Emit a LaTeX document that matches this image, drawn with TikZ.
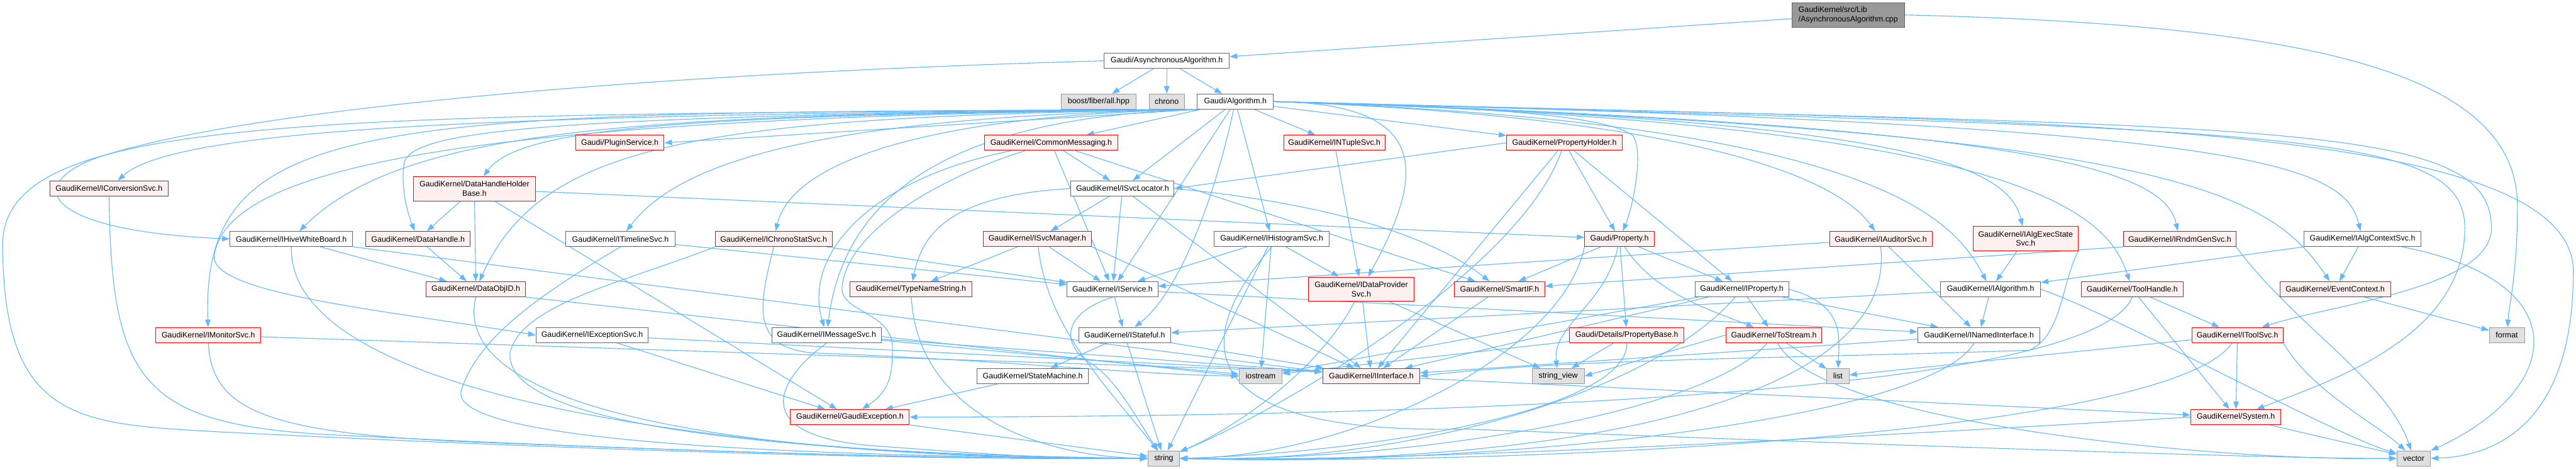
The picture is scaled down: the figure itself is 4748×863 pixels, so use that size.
\documentclass[tikz,border=0pt]{standalone}
\usepackage{fontspec}
\setmainfont{Liberation Sans}
\usetikzlibrary{arrows.meta,calc}
\pgfdeclarelayer{bg}
\pgfsetlayers{bg,main}
\definecolor{ecol}{HTML}{63B8FF}
\definecolor{dred}{HTML}{FF0000}
\definecolor{redfill}{HTML}{FFF0F0}
\definecolor{bgray}{HTML}{666666}
\definecolor{lgray}{HTML}{999999}
\definecolor{gfill}{HTML}{E0E0E0}
\definecolor{rootfill}{HTML}{999999}
\tikzset{
 nb/.style={draw, line width=1.1pt, minimum height=28pt, inner sep=0pt, font=\fontsize{14.4}{17}\selectfont},
 rb/.style={nb, draw=dred, fill=redfill},
 wb/.style={nb, draw=bgray, fill=white},
 gb/.style={nb, draw=lgray, fill=gfill},
 edg/.style={draw=ecol, line width=1.3pt, -{Triangle[length=14pt,width=10pt]}}
}
\begin{document}
\begin{tikzpicture}[x=1pt,y=-1pt]
\useasboundingbox (0,0) rectangle (4748,863);
% nodes
\node[nb, draw=bgray, fill=rootfill, minimum width=207pt, minimum height=45pt, align=left] (root) at (3406.5,27.5) {GaudiKernel/src/Lib\\/AsynchronousAlgorithm.cpp};
\node[wb, minimum width=231pt] (async) at (2150.5,112) {Gaudi/AsynchronousAlgorithm.h};
\node[gb, minimum width=138pt] (boost) at (2025,187) {boost/fiber/all.hpp};
\node[gb, minimum width=65pt] (chrono) at (2150.5,187) {chrono};
\node[wb, minimum width=140pt] (algo) at (2277,187) {Gaudi/Algorithm.h};
\node[rb, minimum width=245pt] (commsg) at (1937.5,263) {GaudiKernel/CommonMessaging.h};
\node[rb, minimum width=163pt] (plugin) at (1142.5,263) {Gaudi/PluginService.h};
\node[rb, minimum width=187pt] (ntuple) at (2459.5,263) {GaudiKernel/INTupleSvc.h};
\node[rb, minimum width=213pt] (propholder) at (2883.5,263) {GaudiKernel/PropertyHolder.h};
\node[rb, minimum width=218pt] (iconv) at (201,347) {GaudiKernel/IConversionSvc.h};
\node[rb, minimum width=225pt, minimum height=45pt, align=center] (dhhb) at (874.5,347.5) {GaudiKernel/DataHandleHolder\\Base.h};
\node[wb, minimum width=190pt] (isvcloc) at (2069,347) {GaudiKernel/ISvcLocator.h};
\node[wb, minimum width=226pt] (hive) at (537,440) {GaudiKernel/IHiveWhiteBoard.h};
\node[rb, minimum width=193pt] (datahandle) at (770.5,440) {GaudiKernel/DataHandle.h};
\node[wb, minimum width=201pt] (timeline) at (1143.5,440) {GaudiKernel/ITimelineSvc.h};
\node[rb, minimum width=216pt] (chronostat) at (1426,440) {GaudiKernel/IChronoStatSvc.h};
\node[rb, minimum width=200pt] (isvcmgr) at (1912,440) {GaudiKernel/ISvcManager.h};
\node[wb, minimum width=212pt] (ihisto) at (2344,440) {GaudiKernel/IHistogramSvc.h};
\node[rb, minimum width=128pt] (property) at (2985,440) {Gaudi/Property.h};
\node[rb, minimum width=189pt] (auditor) at (3466.5,440) {GaudiKernel/IAuditorSvc.h};
\node[rb, minimum width=193pt, minimum height=45pt, align=center] (algexec) at (3733.5,439.5) {GaudiKernel/IAlgExecState\\Svc.h};
\node[rb, minimum width=207pt] (rndm) at (4017.5,440) {GaudiKernel/IRndmGenSvc.h};
\node[wb, minimum width=215pt] (algctx) at (4354.5,440) {GaudiKernel/IAlgContextSvc.h};
\node[rb, minimum width=184pt] (dataobjid) at (877,532.5) {GaudiKernel/DataObjID.h};
\node[rb, minimum width=224pt] (typename) at (1679,532.5) {GaudiKernel/TypeNameString.h};
\node[wb, minimum width=167pt] (iservice) at (2050.5,532.5) {GaudiKernel/IService.h};
\node[rb, minimum width=194pt, minimum height=45pt, align=center] (idataprov) at (2509,532.5) {GaudiKernel/IDataProvider\\Svc.h};
\node[rb, minimum width=166pt] (smartif) at (2764,532.5) {GaudiKernel/SmartIF.h};
\node[wb, minimum width=173pt] (iproperty) at (3210.5,532.5) {GaudiKernel/IProperty.h};
\node[wb, minimum width=184pt] (ialgorithm) at (3669,532.5) {GaudiKernel/IAlgorithm.h};
\node[rb, minimum width=188pt] (toolhandle) at (3930,532.5) {GaudiKernel/ToolHandle.h};
\node[rb, minimum width=204pt] (eventctx) at (4304,532.5) {GaudiKernel/EventContext.h};
\node[rb, minimum width=194pt] (imonitor) at (384,617) {GaudiKernel/IMonitorSvc.h};
\node[wb, minimum width=207pt] (iexception) at (1091.5,617) {GaudiKernel/IExceptionSvc.h};
\node[wb, minimum width=201pt] (imessage) at (1523.5,617) {GaudiKernel/IMessageSvc.h};
\node[wb, minimum width=170pt] (istateful) at (2073,617) {GaudiKernel/IStateful.h};
\node[rb, minimum width=211pt] (propbase) at (2998.5,617) {Gaudi/Details/PropertyBase.h};
\node[rb, minimum width=177pt] (tostream) at (3269.5,617) {GaudiKernel/ToStream.h};
\node[wb, minimum width=225pt] (inamed) at (3647.5,617) {GaudiKernel/INamedInterface.h};
\node[rb, minimum width=168pt] (itoolsvc) at (4124,617) {GaudiKernel/IToolSvc.h};
\node[gb, minimum width=65pt] (format) at (4620.5,617) {format};
\node[wb, minimum width=205pt] (statemachine) at (1903.5,692.5) {GaudiKernel/StateMachine.h};
\node[gb, minimum width=79pt] (iostream) at (2323.5,692.5) {iostream};
\node[rb, minimum width=179pt] (iinterface) at (2527.5,692.5) {GaudiKernel/IInterface.h};
\node[gb, minimum width=96pt] (stringview) at (2872,692.5) {string\_view};
\node[gb, minimum width=41pt] (list) at (3387.5,692.5) {list};
\node[rb, minimum width=219pt] (gaudiexc) at (1566.5,768) {GaudiKernel/GaudiException.h};
\node[rb, minimum width=166pt] (system) at (4121,768) {GaudiKernel/System.h};
\node[gb, minimum width=58pt] (str) at (2145,844) {string};
\node[gb, minimum width=62pt] (vec) at (4449,844) {vector};

\begin{pgfonlayer}{bg}
\fill[white] (0,0) rectangle (4748,863);
\foreach \a/\b in {
root/async, async/boost, async/chrono, async/algo,
algo/commsg, algo/isvcloc, algo/ihisto, algo/iservice, algo.south west/plugin.east, algo/ntuple, algo/propholder,
commsg/isvcloc, commsg/iservice, commsg/smartif,
propholder.west/isvcloc.east, propholder/property, propholder/iproperty, propholder/iinterface,
ntuple/idataprov,
dhhb/datahandle, dhhb/dataobjid, dhhb/gaudiexc, dhhb/property,
isvcloc/isvcmgr, isvcloc/iinterface, isvcloc/iservice,
hive/dataobjid, hive/iinterface.175, datahandle/dataobjid, dataobjid.south east/iostream.west,
timeline/iservice, chronostat/iservice,
isvcmgr/typename, isvcmgr/iservice, isvcmgr.south east/iinterface,
ihisto/iservice, ihisto/iostream, ihisto/str, ihisto/idataprov,
property/smartif, property/propbase, property/iproperty,
auditor/iservice, auditor/inamed,
algexec/ialgorithm,
rndm.south west/smartif,
algctx/eventctx, algctx/ialgorithm,
idataprov/iinterface, idataprov/stringview,
smartif/iinterface,
iproperty/tostream, iproperty/inamed, iproperty/iinterface, iproperty/iostream,
iservice/istateful, iservice/inamed,
ialgorithm/inamed, ialgorithm/istateful,
toolhandle/itoolsvc, toolhandle/system,
eventctx/format,
iexception/gaudiexc, iexception/iinterface.175,
imessage/iostream, imessage/iinterface.175,
istateful/statemachine, istateful/str, istateful/iinterface,
propbase/stringview, propbase/iostream,
tostream/list, tostream.west/stringview.east,
inamed/iinterface,
itoolsvc/system, itoolsvc/list,
statemachine/gaudiexc,
iinterface/system,
gaudiexc/str,
system/vec,
imonitor/iinterface.175
} \draw[edg] (\a) -- (\b);
% root
\draw[edg] (root.east) .. controls (4250,45) and (4640,130) .. (4640,380) .. controls (4640,500) and (4625,560) .. (format);
% async -> hive
\draw[edg] (async.west) .. controls (1200,135) and (450,200) .. (180,290) .. controls (40,340) and (80,425) .. (hive.west);
% algo to the left
\draw[edg] (algo.south west) .. controls (1300,212) and (960,230) .. (dhhb);
\draw[edg] (algo.south west) .. controls (1000,210) and (330,230) .. (iconv);
\draw[edg] (algo.south west) .. controls (1200,210) and (750,230) .. (hive);
\draw[edg] (algo.south west) .. controls (1000,212) and (760,240) .. (745,300) .. controls (738,340) and (750,390) .. (datahandle);
\draw[edg] (algo.south west) .. controls (1500,215) and (1250,300) .. (timeline);
\draw[edg] (algo.south west) .. controls (1700,212) and (1460,300) .. (chronostat);
\draw[edg] (algo.south west) .. controls (1300,215) and (1000,260) .. (dataobjid);
\draw[edg] (algo.south west) .. controls (700,208) and (370,200) .. (imonitor);
\draw[edg] (algo.south west) .. controls (900,215) and (420,300) .. (395,470) .. controls (385,540) and (700,570) .. (iexception.west);
\draw[edg] (algo.south west) .. controls (1800,215) and (1560,330) .. (imessage);
\draw[edg] (algo.south west) .. controls (600,212) and (5,205) .. (5,450) .. controls (5,780) and (150,780) .. (400,795) .. controls (1300,840) and (1800,846) .. (str.west);
% algo to the right
\draw[edg] (algo) .. controls (2235,380) and (2170,540) .. (istateful);
\draw[edg] (algo.east) .. controls (2650,190) and (2620,330) .. (idataprov);
\draw[edg] (algo.east) .. controls (2700,195) and (2960,210) .. (3010,250) .. controls (3030,280) and (3010,380) .. (property);
\draw[edg] (algo.east) .. controls (3100,215) and (3380,320) .. (auditor);
\draw[edg] (algo.east) .. controls (3500,220) and (3700,300) .. (algexec);
\draw[edg] (algo.east) .. controls (3450,225) and (3600,400) .. (ialgorithm);
\draw[edg] (algo.east) .. controls (3800,230) and (3990,320) .. (rndm);
\draw[edg] (algo.east) .. controls (4150,230) and (4320,300) .. (algctx);
\draw[edg] (algo.east) .. controls (3700,225) and (3880,380) .. (toolhandle);
\draw[edg] (algo.east) .. controls (4000,240) and (4180,350) .. (eventctx);
\draw[edg] (algo.east) .. controls (4200,235) and (4592,220) .. (4592,420) .. controls (4592,530) and (4300,560) .. (itoolsvc);
\draw[edg] (algo.east) .. controls (4200,240) and (4543,235) .. (4543,420) .. controls (4543,620) and (4300,700) .. (system);
\draw[edg] (algo.east) .. controls (3600,225) and (4743,200) .. (4743,500) .. controls (4743,780) and (4600,840) .. (vec.east);
% commsg
\draw[edg] (commsg) .. controls (1600,330) and (1480,470) .. (imessage);
\draw[edg] (commsg) .. controls (1750,320) and (1560,420) .. (1552,530) .. controls (1550,575) and (1645,575) .. (1645,640) .. controls (1645,690) and (1640,720) .. (gaudiexc);
% others
\draw[edg] (propholder) .. controls (2800,500) and (2350,760) .. (str);
\draw[edg] (iconv.south) .. controls (205,700) and (260,780) .. (600,800) .. controls (1300,835) and (1800,846) .. (str.west);
\draw[edg] (hive.south) .. controls (530,760) and (1500,846) .. (str.west);
\draw[edg] (dataobjid.south) .. controls (820,780) and (1500,846) .. (str.west);
\draw[edg] (timeline.south) .. controls (1000,540) and (880,620) .. (850,720) .. controls (830,800) and (1300,840) .. (str.west);
\draw[edg] (chronostat.south) .. controls (1400,560) and (1380,640) .. (1500,650) .. controls (1800,660) and (2100,690) .. (iostream.west);
\draw[edg] (chronostat.south west) .. controls (1150,520) and (960,560) .. (940,650) .. controls (930,780) and (1400,835) .. (str.west);
\draw[edg] (isvcmgr) .. controls (1930,600) and (2030,700) .. (str);
\draw[edg] (typename) .. controls (1690,750) and (1900,840) .. (str.west);
\draw[edg] (isvcloc.west) .. controls (1750,360) and (1700,430) .. (typename);
\draw[edg] (isvcloc.east) .. controls (2400,370) and (2620,420) .. (smartif);
\draw[edg] (ihisto.south) .. controls (2200,620) and (2180,800) .. (2700,790) .. controls (3500,820) and (4200,845) .. (vec.west);
\draw[edg] (property) .. controls (2960,560) and (2860,600) .. (stringview);
\draw[edg] (property) .. controls (3050,540) and (3150,570) .. (tostream);
\draw[edg] (property.south west) .. controls (2880,650) and (2500,840) .. (str.east);
\draw[edg] (auditor.south) .. controls (3500,760) and (2800,860) .. (str.east);
\draw[edg] (algexec.south east) .. controls (3800,520) and (3800,620) .. (3740,645) .. controls (3300,660) and (2900,660) .. (iinterface.east);
\draw[edg] (rndm.south east) .. controls (4230,600) and (4400,700) .. (vec);
\draw[edg] (algctx) .. controls (4760,520) and (4720,720) .. (vec);
\draw[edg] (ialgorithm.east) .. controls (3900,580) and (4300,800) .. (vec);
\draw[edg] (toolhandle.south) .. controls (3850,740) and (2500,767) .. (gaudiexc.east);
\draw[edg] (iproperty.east) .. controls (3400,560) and (3390,620) .. (list);
\draw[edg] (iproperty) .. controls (3050,720) and (2600,855) .. (str.east);
\draw[edg] (idataprov) .. controls (2420,700) and (2250,800) .. (str);
\draw[edg] (iservice.south) .. controls (1950,580) and (1960,640) .. (2012,670) .. controls (2060,700) and (2100,780) .. (str);
\draw[edg] (imonitor.south) .. controls (390,760) and (500,800) .. (900,815) .. controls (1400,835) and (1800,846) .. (str.west);
\draw[edg] (imessage.south) .. controls (1430,700) and (1380,800) .. (1600,820) .. controls (1800,835) and (1950,846) .. (str.west);
\draw[edg] (propbase) .. controls (3000,760) and (2500,835) .. (str.east);
\draw[edg] (tostream) .. controls (3150,760) and (2600,850) .. (str.east);
\draw[edg] (tostream) .. controls (3350,780) and (4100,850) .. (vec.west);
\draw[edg] (inamed) .. controls (3550,780) and (2700,860) .. (str.east);
\draw[edg] (itoolsvc) .. controls (4000,800) and (2800,858) .. (str.east);
\draw[edg] (itoolsvc.south east) .. controls (4260,720) and (4380,780) .. (vec);
\draw[edg] (system.west) .. controls (3500,800) and (2600,852) .. (str.east);
\end{pgfonlayer}
\end{tikzpicture}
\end{document}
